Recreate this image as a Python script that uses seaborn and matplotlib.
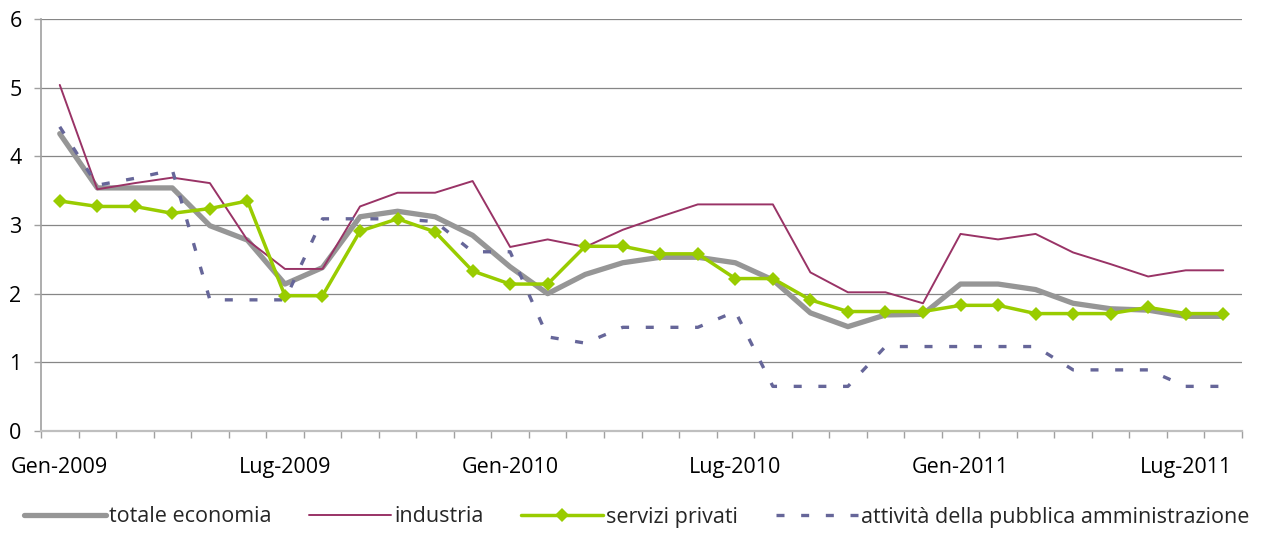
import matplotlib
matplotlib.use("Agg")
import matplotlib.pyplot as plt
import seaborn as sns
import numpy as np
import pandas as pd

# ---- data ----
month_names = ["Gen", "Feb", "Mar", "Apr", "Mag", "Giu", "Lug", "Ago", "Set", "Ott", "Nov", "Dic"]
months = [f"{month_names[i % 12]}-{2009 + i // 12}" for i in range(32)]

totale_economia = [4.33, 3.54, 3.54, 3.54, 2.99, 2.78, 2.14, 2.38, 3.12, 3.20, 3.12, 2.85,
                   2.39, 2.00, 2.28, 2.45, 2.53, 2.53, 2.45, 2.20, 1.72, 1.52, 1.69, 1.70,
                   2.14, 2.14, 2.06, 1.86, 1.78, 1.76, 1.67, 1.67]
industria = [5.04, 3.52, 3.61, 3.69, 3.61, 2.78, 2.36, 2.36, 3.27, 3.47, 3.47, 3.64,
             2.68, 2.79, 2.68, 2.93, 3.12, 3.30, 3.30, 3.30, 2.31, 2.02, 2.02, 1.86,
             2.87, 2.79, 2.87, 2.60, 2.43, 2.25, 2.34, 2.34]
servizi_privati = [3.35, 3.27, 3.27, 3.17, 3.24, 3.35, 1.97, 1.97, 2.91, 3.09, 2.90, 2.33,
                   2.14, 2.14, 2.69, 2.69, 2.58, 2.58, 2.22, 2.22, 1.91, 1.74, 1.74, 1.74,
                   1.83, 1.83, 1.71, 1.71, 1.71, 1.80, 1.71, 1.71]
pubblica_amm = [4.43, 3.58, 3.68, 3.80, 1.91, 1.91, 1.91, 3.09, 3.09, 3.09, 3.05, 2.61,
                2.61, 1.37, 1.28, 1.51, 1.51, 1.51, 1.74, 0.65, 0.65, 0.65, 1.23, 1.23,
                1.23, 1.23, 1.23, 0.89, 0.89, 0.89, 0.65, 0.65]
y_ticks = [0, 1, 2, 3, 4, 5, 6]
label_every = 6

df = pd.DataFrame({
    "pos": np.arange(len(months)),
    "month": months,
    "totale economia": totale_economia,
    "industria": industria,
    "servizi privati": servizi_privati,
    "attività della pubblica amministrazione": pubblica_amm,
})

sns.set_style("white")
plt.rcParams["font.family"] = ["Open Sans", "DejaVu Sans"]

W, H = 1273, 534
fig = plt.figure(figsize=(W / 100, H / 100), dpi=100)
ax = fig.add_axes([41 / W, (H - 431) / H, 1201 / W, 412 / H])

grid_c = "#868686"
for yv in y_ticks[1:]:
    ax.axhline(yv, color=grid_c, lw=0.9, zorder=0)

sns.lineplot(data=df, x="pos", y="totale economia", ax=ax, color="#969696",
             lw=3.8, label="totale economia", zorder=2, solid_capstyle="round")
sns.lineplot(data=df, x="pos", y="industria", ax=ax, color="#993366",
             lw=1.4, label="industria", zorder=3)
sns.lineplot(data=df, x="pos", y="servizi privati", ax=ax, color="#99CC00",
             lw=2.5, marker="D", markersize=7.5, markeredgewidth=0,
             label="servizi privati", zorder=4)
sns.lineplot(data=df, x="pos", y="attività della pubblica amministrazione", ax=ax,
             color="#666699", lw=2.4, linestyle=(0, (2.4, 5.0)),
             label="attività della pubblica amministrazione", zorder=3)

n = len(months)
ax.set_xlim(-0.5, n - 0.5)
ax.set_ylim(0, 6)
ax.set_xlabel("")
ax.set_ylabel("")

# category boundaries as tick marks, labels centered on categories
ax.set_xticks(np.arange(n + 1) - 0.5)
ax.set_xticklabels([])
ax.set_xticks(np.arange(0, n, label_every), minor=True)
ax.set_xticklabels([months[i] for i in range(0, n, label_every)], minor=True)
ax.tick_params(axis="x", which="major", direction="out", length=5, width=1, color="#a0a0a0", bottom=True)
ax.tick_params(axis="x", which="minor", length=0, pad=19, labelsize=15.5, labelcolor="black")

ax.set_yticks(y_ticks)
ax.set_yticklabels([str(v) for v in y_ticks])
ax.tick_params(axis="y", direction="out", length=5, width=1, color="#a0a0a0", left=True,
               pad=9, labelsize=15.5, labelcolor="black")

for s in ["top", "right"]:
    ax.spines[s].set_visible(False)
ax.spines["left"].set_color("#a0a0a0")
ax.spines["left"].set_linewidth(1.2)
ax.spines["bottom"].set_color("#bfbfbf")
ax.spines["bottom"].set_linewidth(1.6)

handles, labels = ax.get_legend_handles_labels()
ax.get_legend().remove()
fig.legend(handles, labels, loc="center", bbox_to_anchor=(0.5, 1 - 517 / H), ncol=4,
           frameon=False, fontsize=15.5, handlelength=3.8, handletextpad=0.15,
           columnspacing=1.75, borderaxespad=0)

fig.savefig("out.png", dpi=100)
